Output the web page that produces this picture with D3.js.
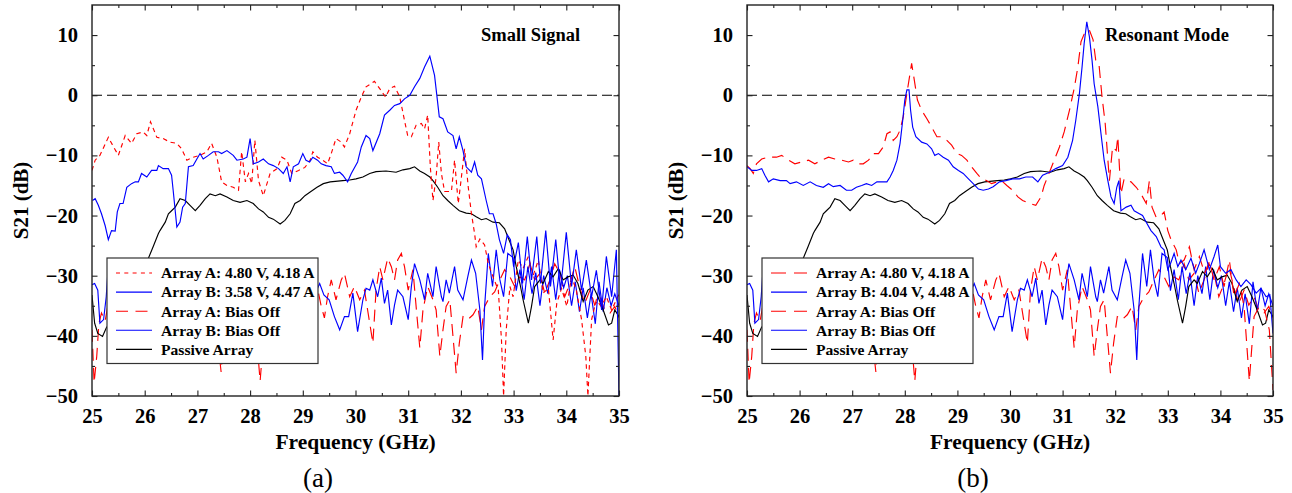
<!DOCTYPE html>
<html><head><meta charset="utf-8">
<script src="https://cdn.jsdelivr.net/npm/d3@7"></script>
<style>body{margin:0;background:#fff}svg{display:block}</style>
</head><body>
<svg id="c" width="1292" height="493"></svg>
<script>
// ---------------- DATA ----------------
const xTickValues = [25,26,27,28,29,30,31,32,33,34,35];
const yTickValues = [10,0,-10,-20,-30,-40,-50];
const panelTitles = ["Small Signal", "Resonant Mode"];
const panelCaptions = ["(a)", "(b)"];
const legendLabelsA = ["Array A: 4.80 V, 4.18 A","Array B: 3.58 V, 4.47 A","Array A: Bias Off","Array B: Bias Off","Passive Array"];
const legendLabelsB = ["Array A: 4.80 V, 4.18 A","Array B: 4.04 V, 4.48 A","Array A: Bias Off","Array B: Bias Off","Passive Array"];

// Passive array (shared by both panels)
const passive = [[25.00,-33.2],[25.05,-37.9],[25.11,-39.6],[25.20,-40.1],[25.27,-38.7],[25.40,-37],[25.55,-34.5],[25.70,-32],[25.85,-30],[26.00,-28.2],[26.07,-27.1],[26.16,-25.2],[26.26,-23],[26.29,-22.5],[26.39,-21.1],[26.45,-19.7],[26.51,-19.2],[26.58,-18.6],[26.67,-17.2],[26.77,-17.5],[26.86,-18.3],[26.96,-19.2],[27.05,-18.3],[27.15,-17.2],[27.24,-16.4],[27.34,-16.7],[27.43,-16.4],[27.56,-16.9],[27.68,-17.5],[27.81,-17.8],[27.94,-17.5],[28.06,-18],[28.16,-18.9],[28.25,-19.4],[28.35,-20.3],[28.44,-20.6],[28.57,-21.4],[28.66,-20.8],[28.76,-19.7],[28.85,-18],[28.95,-17.5],[29.04,-16.7],[29.14,-16.1],[29.27,-15.3],[29.39,-14.7],[29.52,-14.4],[29.76,-14.2],[29.89,-14.1],[30.01,-13.9],[30.14,-13.6],[30.27,-13],[30.39,-12.7],[30.58,-12.6],[30.77,-12.8],[30.90,-12.4],[31.03,-12.2],[31.12,-11.9],[31.22,-12.6],[31.31,-13],[31.41,-13.6],[31.47,-14.2],[31.56,-15.3],[31.66,-16.7],[31.75,-17.5],[31.85,-18.3],[31.97,-19.2],[32.10,-19.6],[32.20,-19.7],[32.29,-20.2],[32.39,-20.7],[32.48,-20.5],[32.61,-21.1],[32.73,-21.2],[32.83,-22.2],[32.92,-24.2],[32.99,-25.7],[33.05,-28.5],[33.12,-31.3],[33.18,-34],[33.28,-37.9],[33.34,-35.1],[33.40,-31.8],[33.50,-30.7],[33.56,-31.3],[33.66,-29.3],[33.75,-30.2],[33.85,-28.8],[33.94,-30.7],[34.03,-30.2],[34.13,-29.9],[34.22,-31.3],[34.32,-34.3],[34.41,-32.4],[34.51,-31.8],[34.60,-33.5],[34.70,-35.7],[34.80,-38.2],[34.86,-37.9],[34.92,-35.7],[35.00,-36.8]];

// Array A bias off (shared)
const biasOffA = [[25.00,-39],[25.04,-47.8],[25.09,-43.4],[25.13,-38],[25.18,-36.2],[25.25,-37.5],[25.32,-34],[25.40,-36],[25.48,-33],[25.56,-37],[25.64,-35],[25.72,-39],[25.80,-34],[25.88,-36],[25.96,-32],[26.04,-35],[26.12,-38],[26.20,-34],[26.28,-36],[26.36,-33],[26.44,-37],[26.52,-35],[26.60,-40],[26.68,-36],[26.76,-33],[26.84,-35],[26.92,-38],[27.00,-34],[27.08,-37],[27.16,-33],[27.24,-36],[27.32,-39],[27.40,-42],[27.45,-46],[27.50,-40],[27.58,-35],[27.66,-37],[27.74,-33],[27.82,-36],[27.90,-34],[27.98,-38],[28.06,-35],[28.12,-40],[28.19,-47.5],[28.25,-41],[28.32,-36],[28.40,-34],[28.48,-37],[28.56,-33],[28.64,-36],[28.72,-39],[28.80,-35],[28.88,-33],[28.96,-37],[29.04,-34],[29.12,-36],[29.20,-33],[29.28,-32.1],[29.35,-35.1],[29.41,-37],[29.47,-33.5],[29.54,-30.7],[29.63,-34],[29.73,-30.7],[29.79,-29.6],[29.89,-33.5],[29.98,-31.8],[30.08,-34],[30.17,-32.4],[30.23,-35.7],[30.33,-41.2],[30.39,-32.4],[30.46,-28.5],[30.52,-30.7],[30.61,-27.1],[30.68,-28.5],[30.74,-30.7],[30.80,-27.4],[30.87,-26.3],[30.93,-28.5],[31.00,-32.4],[31.09,-29],[31.15,-35.1],[31.22,-42],[31.28,-35.7],[31.37,-31.8],[31.47,-34],[31.53,-35.7],[31.60,-43.4],[31.66,-39],[31.72,-35.1],[31.79,-34],[31.85,-40.1],[31.91,-46.2],[31.97,-41.2],[32.04,-36.8],[32.13,-37.3],[32.23,-36.5],[32.32,-35.1],[32.39,-39],[32.45,-35.1],[32.55,-33.5],[32.64,-32.7],[32.74,-30.7],[32.83,-29],[32.93,-30.2],[33.02,-31.8],[33.12,-30.2],[33.21,-30.7],[33.31,-28],[33.40,-30.7],[33.50,-29.6],[33.59,-32.9],[33.69,-30.7],[33.78,-28],[33.88,-29.6],[33.97,-33.5],[34.07,-31.3],[34.16,-28.5],[34.26,-32.1],[34.35,-34.6],[34.45,-32.4],[34.54,-34.9],[34.64,-33.5],[34.73,-35.7],[34.83,-36.2],[34.92,-35.1],[35.00,-37]];

// Array B bias off (shared)
const biasOffB = [[25.00,-31.5],[25.05,-31.3],[25.11,-32.4],[25.15,-37.9],[25.22,-37.3],[25.27,-33.5],[25.30,-29.6],[25.36,-32],[25.42,-35],[25.48,-31],[25.55,-34],[25.62,-30],[25.70,-33],[25.77,-36],[25.84,-32],[25.92,-35],[26.00,-31],[26.08,-34],[26.16,-30],[26.24,-33],[26.32,-37],[26.40,-33],[26.48,-31],[26.56,-35],[26.64,-32],[26.72,-36],[26.80,-33],[26.88,-31],[26.96,-34],[27.04,-37],[27.12,-33],[27.20,-35],[27.28,-31],[27.36,-34],[27.44,-32],[27.52,-36],[27.60,-33],[27.68,-30],[27.76,-34],[27.84,-32],[27.92,-36],[28.00,-33],[28.08,-31],[28.16,-35],[28.24,-33],[28.32,-37],[28.40,-34],[28.48,-31],[28.56,-35],[28.64,-32],[28.72,-34],[28.80,-37],[28.88,-33],[28.96,-31],[29.04,-34],[29.12,-32],[29.20,-35],[29.25,-32.7],[29.32,-31.3],[29.40,-33.2],[29.50,-34],[29.60,-36.8],[29.70,-39],[29.79,-36.8],[29.87,-36.8],[29.95,-32.9],[30.04,-39.3],[30.14,-34],[30.20,-32.1],[30.27,-32.4],[30.33,-30.7],[30.42,-33.5],[30.49,-30.4],[30.55,-34.6],[30.61,-32.4],[30.68,-38.2],[30.74,-34.9],[30.80,-32.4],[30.90,-33.5],[31.00,-37.3],[31.06,-31.8],[31.12,-28],[31.22,-30.7],[31.31,-34],[31.37,-29.6],[31.47,-33.5],[31.53,-28.5],[31.63,-33.5],[31.66,-34.3],[31.72,-30.7],[31.78,-32.9],[31.88,-28.5],[31.94,-32.4],[32.04,-34],[32.13,-30.2],[32.20,-27.4],[32.28,-29.6],[32.36,-35.7],[32.41,-44],[32.45,-35.1],[32.52,-26.3],[32.60,-31.8],[32.67,-25.7],[32.74,-30.7],[32.81,-33.5],[32.89,-26.3],[32.99,-27],[33.05,-32.5],[33.12,-29],[33.20,-34],[33.27,-28.5],[33.35,-33],[33.42,-29.5],[33.50,-35],[33.57,-30],[33.65,-33],[33.72,-28.5],[33.80,-34],[33.87,-29],[33.95,-32],[34.02,-30],[34.10,-35],[34.17,-31],[34.25,-36],[34.32,-32],[34.40,-37],[34.47,-33],[34.55,-38],[34.62,-31],[34.70,-36],[34.77,-32],[34.85,-35],[34.92,-33],[35.00,-35]];

// Panel (a) Small Signal: Array A 4.80 V, 4.18 A
const smallA = [[25.00,-12.5],[25.06,-10.8],[25.15,-10],[25.31,-7],[25.41,-8.6],[25.50,-10],[25.63,-6.7],[25.75,-8],[25.85,-6.4],[25.97,-6.1],[26.04,-6.7],[26.11,-4.4],[26.23,-7],[26.35,-7.2],[26.48,-7.8],[26.61,-8],[26.70,-8.9],[26.80,-10.8],[26.92,-10.3],[27.05,-10],[27.18,-9.4],[27.27,-8],[27.37,-10.3],[27.46,-14.4],[27.56,-15],[27.68,-15.3],[27.78,-15.8],[27.84,-9.4],[27.91,-14.4],[27.97,-13],[28.03,-14.7],[28.09,-7.5],[28.16,-14.2],[28.25,-16.7],[28.38,-13],[28.51,-12.2],[28.60,-10.3],[28.70,-10.8],[28.79,-13],[28.92,-12.5],[29.04,-12],[29.14,-10.8],[29.19,-9.4],[29.28,-10.3],[29.38,-10.8],[29.47,-11.4],[29.54,-9.7],[29.63,-7.2],[29.73,-7.8],[29.79,-8.6],[29.89,-6.4],[30.01,-2.5],[30.11,-0.3],[30.20,1.4],[30.36,2.3],[30.46,1.1],[30.57,-0.3],[30.65,1.1],[30.74,1.5],[30.84,-0.3],[30.93,-4.2],[30.99,-6.7],[31.06,-6.9],[31.15,-5],[31.25,-4.7],[31.31,-5.6],[31.37,-3.3],[31.42,-11.9],[31.47,-17.5],[31.53,-13.6],[31.58,-7.8],[31.63,-13],[31.69,-16],[31.82,-16],[31.88,-10.8],[31.95,-18],[32.01,-13.6],[32.07,-8.9],[32.14,-15.3],[32.20,-19.7],[32.26,-23],[32.29,-25.2],[32.36,-23.9],[32.45,-24.9],[32.52,-28],[32.61,-30.2],[32.71,-32.4],[32.77,-40.7],[32.81,-50],[32.86,-39],[32.93,-31.8],[32.99,-33.5],[33.09,-27.4],[33.18,-28.8],[33.28,-26.8],[33.37,-30],[33.47,-27.4],[33.56,-32.9],[33.66,-32.1],[33.75,-40.7],[33.82,-34.5],[33.91,-32.1],[34.01,-35.1],[34.10,-30.2],[34.19,-32.4],[34.29,-37.3],[34.37,-43.4],[34.41,-50],[34.48,-37.3],[34.57,-34],[34.66,-35.1],[34.76,-33.5],[34.86,-35.7],[34.95,-34],[35.00,-33]];

// Panel (a) Small Signal: Array B 3.58 V, 4.47 A
const smallB = [[25.01,-17.5],[25.06,-17.2],[25.12,-18.3],[25.18,-19.7],[25.25,-21.7],[25.31,-24],[25.37,-22.5],[25.44,-22.6],[25.48,-19.4],[25.53,-18],[25.59,-18],[25.66,-15.3],[25.75,-14.7],[25.82,-14.4],[25.88,-14.4],[25.94,-13],[26.04,-13.6],[26.13,-12.5],[26.23,-12.5],[26.26,-11.7],[26.35,-12.2],[26.45,-12.2],[26.51,-13.3],[26.54,-15.8],[26.61,-21.9],[26.67,-21.1],[26.72,-18.6],[26.77,-18],[26.83,-11.9],[26.92,-11.7],[26.99,-10.6],[27.05,-9.7],[27.11,-10.6],[27.21,-10],[27.30,-9.4],[27.40,-9.4],[27.46,-9.7],[27.56,-9.2],[27.68,-10],[27.75,-10.8],[27.87,-10.6],[27.94,-10.3],[28.00,-7.2],[28.06,-11.4],[28.16,-11.1],[28.25,-10.6],[28.35,-11.4],[28.44,-11.7],[28.54,-12.2],[28.63,-13],[28.70,-11.9],[28.76,-14.4],[28.82,-11.9],[28.92,-11.4],[29.00,-9.7],[29.06,-10.8],[29.13,-11.1],[29.19,-10.3],[29.28,-10.8],[29.35,-11.4],[29.44,-11.7],[29.54,-11.9],[29.60,-13],[29.70,-12.8],[29.76,-13.3],[29.85,-14.4],[29.92,-13],[30.04,-11.1],[30.11,-8.6],[30.20,-6.7],[30.27,-7.2],[30.33,-9.2],[30.46,-6.4],[30.55,-3.3],[30.65,-2.5],[30.74,-1.7],[30.84,-1.4],[30.93,-0.6],[31.03,0],[31.12,1.4],[31.22,2.8],[31.31,4.7],[31.41,6.5],[31.50,3.3],[31.59,-3.6],[31.66,-3.9],[31.75,-6.1],[31.85,-6.7],[31.91,-8.9],[31.97,-6.9],[32.04,-9.2],[32.10,-11.9],[32.20,-12.8],[32.26,-11.1],[32.32,-13.3],[32.39,-13.9],[32.48,-17.5],[32.54,-19.7],[32.61,-19.7],[32.67,-21.4],[32.73,-24],[32.81,-26.3],[32.88,-23.2],[32.94,-24],[33.00,-28.5],[33.09,-24.5],[33.17,-31.3],[33.26,-23.5],[33.34,-30.7],[33.44,-23.5],[33.51,-31.3],[33.61,-22.5],[33.70,-31.8],[33.80,-24],[33.89,-32.4],[34.00,-22.8],[34.10,-31.8],[34.19,-25.7],[34.29,-32.4],[34.38,-27.4],[34.48,-33.5],[34.57,-29.1],[34.67,-35.7],[34.76,-26.8],[34.86,-33.5],[34.95,-25.7],[35.00,-50]];

// Panel (b) Resonant Mode: Array A 4.80 V, 4.18 A
const resA = [[25.00,-11.7],[25.06,-12.2],[25.12,-13],[25.18,-11.4],[25.28,-10.6],[25.41,-10.3],[25.56,-10.3],[25.66,-10],[25.79,-10.8],[25.91,-11.4],[26.04,-11.1],[26.17,-10.8],[26.29,-11.4],[26.42,-10.8],[26.55,-10.3],[26.67,-10.6],[26.80,-10.8],[26.93,-11.1],[27.02,-10.8],[27.12,-11.4],[27.21,-11.4],[27.31,-10.8],[27.40,-9.7],[27.50,-9.7],[27.59,-8.6],[27.66,-6.4],[27.72,-6.1],[27.78,-7.5],[27.85,-6.9],[27.91,-5.8],[27.97,-3.6],[28.04,0.3],[28.09,3.1],[28.13,5.3],[28.17,3.1],[28.24,-0.8],[28.32,-2.5],[28.42,-3.9],[28.51,-5.3],[28.61,-6.9],[28.70,-6.9],[28.80,-7.5],[28.89,-8.3],[28.99,-9.7],[29.08,-10],[29.18,-10.8],[29.27,-11.9],[29.37,-13],[29.46,-13.9],[29.56,-14.2],[29.65,-14.7],[29.75,-14.4],[29.84,-14.2],[29.94,-15],[30.05,-15.8],[30.15,-16.9],[30.24,-17.5],[30.37,-18],[30.49,-18.3],[30.59,-16.9],[30.65,-15],[30.75,-12.8],[30.84,-10.8],[30.94,-8.6],[31.03,-6.1],[31.13,-2.5],[31.22,1.1],[31.29,4.7],[31.35,8.9],[31.43,10.6],[31.51,10.8],[31.58,9.2],[31.63,5.8],[31.69,5.3],[31.75,-0.3],[31.81,-4.7],[31.89,-14.2],[31.95,-8.6],[32.02,-9.2],[32.05,-6.9],[32.08,-11.9],[32.11,-16.4],[32.17,-13.9],[32.30,-14.4],[32.40,-15.3],[32.49,-16.4],[32.59,-18],[32.65,-14.2],[32.70,-18.6],[32.78,-20.3],[32.87,-20],[32.93,-19.4],[33.00,-22.5],[33.06,-24],[33.16,-25.7],[33.22,-28],[33.31,-27.4],[33.41,-25.2],[33.50,-29],[33.60,-26.8],[33.70,-29.6],[33.79,-27.7],[33.88,-30.7],[33.98,-28.5],[34.07,-31.8],[34.17,-27.4],[34.26,-33.5],[34.36,-31.3],[34.45,-35.1],[34.55,-47.5],[34.64,-36.8],[34.74,-35.1],[34.84,-35.7],[34.93,-39],[35.00,-49]];

// Panel (b) Resonant Mode: Array B 4.04 V, 4.48 A
const resB = [[25.00,-11.9],[25.09,-12.5],[25.18,-12.5],[25.28,-12.2],[25.34,-13.3],[25.41,-14.4],[25.50,-13.9],[25.63,-14.2],[25.75,-14.2],[25.82,-14.7],[25.94,-14.4],[26.07,-15],[26.20,-14.4],[26.32,-15],[26.45,-15.3],[26.55,-14.7],[26.64,-15.2],[26.77,-15],[26.89,-15.8],[26.99,-15.8],[27.08,-15.3],[27.18,-15],[27.27,-14.7],[27.37,-15],[27.47,-14.4],[27.56,-14.4],[27.66,-14.4],[27.72,-13.6],[27.78,-12.5],[27.85,-10.8],[27.91,-8],[27.96,-4.2],[28.00,-0.8],[28.04,0.9],[28.08,0.9],[28.11,-2.5],[28.15,-5.3],[28.21,-6.9],[28.32,-7.8],[28.42,-8.1],[28.51,-8.9],[28.57,-10],[28.64,-9.7],[28.73,-10.3],[28.83,-10.8],[28.92,-11.9],[29.02,-12.5],[29.11,-13],[29.21,-13.9],[29.30,-14.7],[29.40,-15.6],[29.49,-15.8],[29.59,-15.6],[29.68,-15.2],[29.80,-14.4],[29.92,-14.2],[30.05,-13.9],[30.18,-13.9],[30.30,-13.6],[30.43,-13.6],[30.53,-14.4],[30.62,-13.3],[30.75,-12.8],[30.87,-12.2],[31.00,-11.7],[31.10,-10.3],[31.19,-7.5],[31.25,-4.2],[31.32,0.3],[31.37,4.7],[31.41,8.6],[31.46,12.2],[31.51,9.7],[31.56,5.8],[31.60,1.9],[31.67,-1.9],[31.73,-6.4],[31.79,-10.8],[31.86,-14.2],[31.92,-16.9],[31.98,-18],[32.03,-15.3],[32.07,-14.2],[32.11,-19.2],[32.21,-18.6],[32.30,-18.3],[32.36,-19.2],[32.46,-19.7],[32.52,-20],[32.59,-21.1],[32.68,-22.5],[32.78,-23.5],[32.87,-25.2],[32.93,-25.7],[33.00,-29],[33.06,-27.8],[33.12,-26.3],[33.19,-28.5],[33.25,-27.4],[33.34,-29],[33.44,-27.1],[33.53,-29.6],[33.60,-28],[33.69,-25.7],[33.79,-29],[33.88,-26.8],[33.95,-24.9],[34.00,-28.5],[34.10,-29.6],[34.20,-29],[34.30,-30.7],[34.39,-31.8],[34.49,-30.7],[34.58,-31.5],[34.68,-32.9],[34.77,-32.1],[34.87,-33.5],[34.94,-33.2],[35.00,-39.6]];

// ---------------- DRAWING ----------------
const svg = d3.select("#c");
const FONT = "'Liberation Serif','Times New Roman',serif";
const RED = "#ff0000", BLUE = "#0000ff", BLACK = "#000000";
const SHORT = "4.5,3.8", LONG = "12,7";

const panels = [
  { left: 92, right: 619, title: panelTitles[0], titleX: 481, caption: panelCaptions[0], capX: 318,
    legendLabels: legendLabelsA, legendX: 107,
    series: [
      {data: biasOffA, color: RED, dash: LONG},
      {data: biasOffB, color: BLUE, dash: null},
      {data: passive, color: BLACK, dash: null},
      {data: smallA, color: RED, dash: SHORT},
      {data: smallB, color: BLUE, dash: null}
    ],
    legendStyles: [[RED,"4,4.3"],[BLUE,null],[RED,"12,7.5"],[BLUE,null],[BLACK,null]] },
  { left: 747, right: 1273, title: panelTitles[1], titleX: 1105, caption: panelCaptions[1], capX: 973,
    legendLabels: legendLabelsB, legendX: 762,
    series: [
      {data: biasOffA, color: RED, dash: LONG},
      {data: biasOffB, color: BLUE, dash: null},
      {data: passive, color: BLACK, dash: null},
      {data: resA, color: RED, dash: LONG},
      {data: resB, color: BLUE, dash: null}
    ],
    legendStyles: [[RED,"15,8"],[BLUE,null],[RED,"15,8"],[BLUE,null],[BLACK,null]] }
];

const plotTop = 5, plotBottom = 396;

panels.forEach((p, i) => {
  const x = d3.scaleLinear().domain([25, 35]).range([p.left, p.right]);
  const y = d3.scaleLinear().domain([-50, 15]).range([plotBottom, plotTop]);
  const g = svg.append("g");
  const clipId = "clip" + i;
  svg.append("clipPath").attr("id", clipId).append("rect")
    .attr("x", p.left).attr("y", plotTop).attr("width", p.right - p.left).attr("height", plotBottom - plotTop);

  const plot = g.append("g").attr("clip-path", `url(#${clipId})`);
  plot.append("line").attr("x1", p.left).attr("x2", p.right).attr("y1", y(0)).attr("y2", y(0))
    .attr("stroke", "#000").attr("stroke-width", 1.2).attr("stroke-dasharray", "10,5");

  const line = d3.line().x(d => x(d[0])).y(d => y(d[1]));
  p.series.forEach(s => {
    plot.append("path").datum(s.data).attr("d", line).attr("fill", "none")
      .attr("stroke", s.color).attr("stroke-width", 1.15)
      .attr("stroke-dasharray", s.dash);
  });

  const xMinor = d3.range(25.5, 35, 1);
  const yMinor = d3.range(-45, 15, 10);
  g.append("g").attr("transform", `translate(0,${plotBottom})`)
    .call(d3.axisBottom(x).tickValues(xTickValues).tickSize(-5.5).tickPadding(12).tickFormat(d3.format("d")));
  g.append("g").attr("transform", `translate(0,${plotBottom})`)
    .call(d3.axisBottom(x).tickValues(xMinor).tickSize(-3).tickFormat(""));
  g.append("g").attr("transform", `translate(0,${plotTop})`)
    .call(d3.axisTop(x).tickValues(xTickValues).tickSize(-5.5).tickFormat(""));
  g.append("g").attr("transform", `translate(0,${plotTop})`)
    .call(d3.axisTop(x).tickValues(xMinor).tickSize(-3).tickFormat(""));
  g.append("g").attr("transform", `translate(${p.left},0)`)
    .call(d3.axisLeft(y).tickValues(yTickValues).tickSize(-5.5).tickPadding(14).tickFormat(d3.format("d")));
  g.append("g").attr("transform", `translate(${p.left},0)`)
    .call(d3.axisLeft(y).tickValues(yMinor).tickSize(-3).tickFormat(""));
  g.append("g").attr("transform", `translate(${p.right},0)`)
    .call(d3.axisRight(y).tickValues(yTickValues).tickSize(-5.5).tickFormat(""));
  g.append("g").attr("transform", `translate(${p.right},0)`)
    .call(d3.axisRight(y).tickValues(yMinor).tickSize(-3).tickFormat(""));
  g.selectAll(".domain").remove();
  g.selectAll(".tick line").attr("stroke", "#222").attr("stroke-width", 1.1);
  g.selectAll(".tick text").attr("font-family", FONT).attr("font-weight", "bold")
    .attr("font-size", 20.5).attr("fill", "#000");

  g.append("rect").attr("x", p.left).attr("y", plotTop).attr("width", p.right - p.left).attr("height", plotBottom - plotTop)
    .attr("fill", "none").attr("stroke", "#222").attr("stroke-width", 1.4);

  g.append("text").attr("x", p.titleX).attr("y", 41).text(p.title)
    .attr("font-family", FONT).attr("font-weight", "bold").attr("font-size", 18.5);

  g.append("text").attr("x", (p.left + p.right) / 2).attr("y", 449).attr("text-anchor", "middle")
    .text("Frequency (GHz)").attr("font-family", FONT).attr("font-weight", "bold").attr("font-size", 21.5);
  g.append("text").attr("transform", `translate(${p.left - 64},${(plotTop + plotBottom) / 2}) rotate(-90)`)
    .attr("text-anchor", "middle").text("S21 (dB)")
    .attr("font-family", FONT).attr("font-weight", "bold").attr("font-size", 21);

  g.append("text").attr("x", p.capX).attr("y", 487).attr("text-anchor", "middle").text(p.caption)
    .attr("font-family", FONT).attr("font-size", 27);

  const lg = g.append("g").attr("transform", `translate(${p.legendX},258)`);
  lg.append("rect").attr("width", 211).attr("height", 105.5).attr("fill", "#fff")
    .attr("stroke", "#333").attr("stroke-width", 1.2);
  p.legendLabels.forEach((lab, k) => {
    const yy = 15 + k * 19.1;
    lg.append("line").attr("x1", 9).attr("x2", 45).attr("y1", yy).attr("y2", yy)
      .attr("stroke", p.legendStyles[k][0]).attr("stroke-width", 1.1)
      .attr("stroke-dasharray", p.legendStyles[k][1]);
    lg.append("text").attr("x", 54).attr("y", yy + 5.3).text(lab)
      .attr("font-family", FONT).attr("font-weight", "bold").attr("font-size", 15.6);
  });
});
</script>
</body></html>
